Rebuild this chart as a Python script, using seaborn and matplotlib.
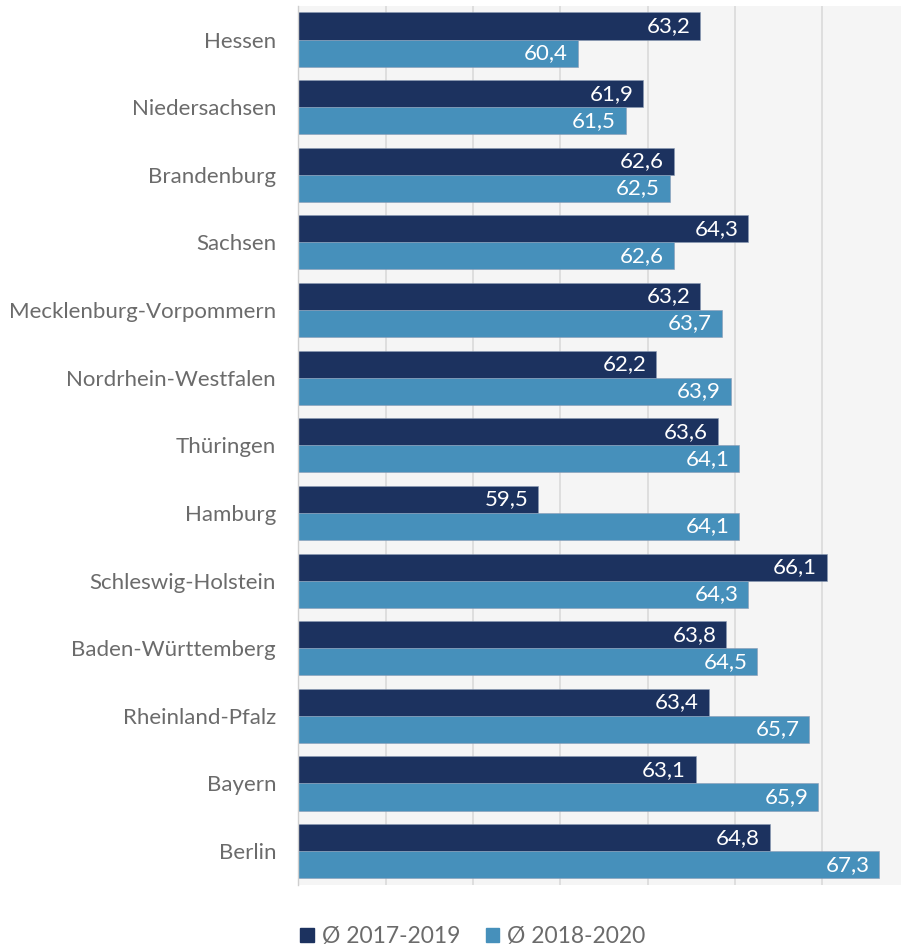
"""
Lebenserwartung-artige Werte je Bundesland (horizontal grouped bars)
"""

import numpy as np
import pandas as pd

import seaborn as sns
import matplotlib.pyplot as plt
from matplotlib.patches import Patch


# data
states = ["Hessen", "Niedersachsen", "Brandenburg", "Sachsen", "Mecklenburg-Vorpommern",
          "Nordrhein-Westfalen", "Thüringen", "Hamburg", "Schleswig-Holstein",
          "Baden-Württemberg", "Rheinland-Pfalz", "Bayern", "Berlin"]
period_1 = [63.2, 61.9, 62.6, 64.3, 63.2, 62.2, 63.6, 59.5, 66.1, 63.8, 63.4, 63.1, 64.8]
period_2 = [60.4, 61.5, 62.5, 62.6, 63.7, 63.9, 64.1, 64.1, 64.3, 64.5, 65.7, 65.9, 67.3]
series = ["Ø 2017-2019", "Ø 2018-2020"]
colors = ["#1c325f", "#4690bb"]


# configurations
sns.set_style("white")
plt.rcParams["font.family"] = ["Lato", "DejaVu Sans"]

df = pd.DataFrame({"state": states * 2,
                   "value": period_1 + period_2,
                   "period": [series[0]] * len(states) + [series[1]] * len(states)})


# instantiate
fig = plt.figure(figsize=(9.01, 9.49), dpi=100)
ax = fig.add_axes([0.331, 0.0675, 0.669, 0.9265])
ax.set_facecolor("#f5f5f5")

# plot data
sns.barplot(data=df, y="state", x="value", hue="period", palette=colors, saturation=1,
            orient="h", width=0.8, ax=ax, legend=False, edgecolor="#8a9bb5", linewidth=0.4)

# value labels inside the bar ends
for container in ax.containers:
    labels = [f"{v:.1f}".replace(".", ",") for v in container.datavalues]
    ax.bar_label(container, labels=labels, padding=-7, color="white", fontsize=16,
                 label_type="edge")
for t in ax.texts:
    t.set_ha("right")

# polish
ax.set_xlim(54, 67.8)
ax.set_xticks(np.arange(56, 68, 2))
ax.set_xticklabels([])
ax.tick_params(axis="x", length=0)
ax.tick_params(axis="y", length=0, pad=16, labelsize=16, labelcolor="#6b6b6b")
ax.grid(axis="x", color="#dedede", linewidth=1.4)
ax.set_axisbelow(True)
ax.set_xlabel("")
ax.set_ylabel("")
for side in ["top", "right", "bottom"]:
    ax.spines[side].set_visible(False)
ax.spines["left"].set_color("#cfcfcf")
ax.spines["left"].set_linewidth(1)

# legend
handles = [Patch(color=c, label=s) for c, s in zip(colors, series)]
fig.legend(handles=handles, loc="center", bbox_to_anchor=(0.525, 0.013), ncol=2,
           frameon=False, fontsize=16.5, labelcolor="#6b6b6b", handlelength=0.6,
           handleheight=0.6, handletextpad=0.35, columnspacing=1.1)

plt.savefig("out.png", dpi=100)
